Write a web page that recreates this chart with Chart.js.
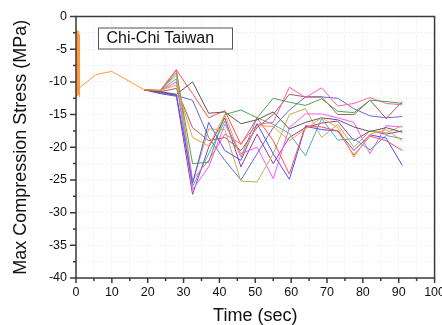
<!DOCTYPE html>
<html>
<head>
<meta charset="utf-8">
<script src="https://cdn.jsdelivr.net/npm/chart.js@4"></script>
<style>
  html, body { margin: 0; padding: 0; background: #fff; overflow: hidden; }
  #wrap { width: 452px; height: 325px; }
</style>
</head>
<body>
<div id="wrap"><canvas id="chart"></canvas></div>
<script>
/* =========================
    DATA
========================= */

// orange spike at the very start (0 - 1 sec)
const spikeTime = [0.0, 0.08, 0.16, 0.24, 0.32, 0.4, 0.48, 0.56, 0.64, 0.72, 0.8, 0.88, 0.96];
const spikeStress = [-11.6, -2.0, -12.4, -2.3, -11.8, -2.6, -12.1, -2.2, -11.5, -3.0, -11.9, -2.8, -12.3];

// sample times (sec)
const time = [1, 5.5, 10, 14.5, 19, 23.5, 28, 32.5, 37, 41.5, 46, 50.5, 55, 59.5, 64, 68.5, 73, 77.5, 82, 86.5, 91];

// shared part up to 19 sec (all runs identical there)
const common = [-10.9, -8.9, -8.4, -9.8, -11.2];

// each series from 23.5 sec on
const sOrange  = [-11.3, -10.5, -18.5, -19.8, -15.0, -21.5, -16.7, -16.8, -19.0, -17.2, -15.5, -17.0, -21.5, -18.0, -17.3, -19.0];
const sGray    = [-11.5, -11.9, -10.0, -14.8, -14.6, -16.4, -15.8, -14.6, -17.2, -16.2, -15.5, -15.8, -16.9, -17.6, -17.0, -17.7];
const sRed     = [-11.4, -8.2, -11.8, -15.5, -14.4, -19.6, -15.5, -19.0, -24.1, -16.7, -16.9, -17.5, -21.2, -18.3, -19.0, -20.5];
const sBlue    = [-11.6, -12.0, -25.5, -16.2, -20.5, -22.0, -16.4, -21.0, -24.9, -16.8, -17.3, -17.5, -20.5, -18.1, -18.6, -22.8];
const sOlive   = [-11.3, -9.0, -25.5, -17.2, -17.3, -25.2, -25.3, -21.0, -15.0, -14.1, -18.5, -16.5, -20.0, -17.5, -17.8, -16.7];
const sGreen   = [-11.4, -8.6, -22.5, -22.3, -15.0, -14.3, -15.5, -12.5, -13.1, -13.6, -12.6, -14.5, -14.7, -12.8, -13.0, -13.3];
const sPink    = [-11.3, -8.1, -25.0, -22.0, -18.0, -19.5, -16.5, -16.2, -10.8, -12.4, -10.9, -13.7, -13.3, -12.4, -13.3, -13.5];
const sBrown   = [-11.5, -11.0, -17.0, -19.0, -18.5, -20.5, -17.0, -15.0, -11.9, -12.3, -12.3, -15.0, -15.0, -12.8, -15.6, -13.0];
const sNavy    = [-11.7, -12.1, -12.8, -18.5, -22.0, -25.0, -21.0, -17.0, -14.3, -12.3, -12.3, -12.5, -14.1, -15.2, -15.5, -15.3];
const sCyan    = [-11.4, -9.5, -26.0, -21.0, -16.0, -21.5, -15.5, -16.5, -17.9, -21.3, -15.6, -18.9, -18.7, -20.4, -18.2, -18.7];
const sMagenta = [-11.4, -10.0, -26.5, -23.0, -16.5, -21.0, -20.0, -24.8, -17.0, -14.9, -14.9, -15.5, -16.2, -21.0, -16.7, -16.9];
const sPurple  = [-11.8, -12.2, -27.2, -20.0, -15.5, -23.0, -18.0, -22.5, -18.5, -17.0, -16.3, -16.0, -19.0, -17.5, -18.0, -17.5];

// axis ticks
const xTicks = [0, 10, 20, 30, 40, 50, 60, 70, 80, 90, 100];
const yTicks = [0, -5, -10, -15, -20, -25, -30, -35, -40];


/* =========================
    DATASETS
========================= */

// full = orange run (spike + shared start), others only from the last shared point on
function toPoints(values, full) {
  const ys = common.concat(values);
  let pts = time.map((t, i) => ({ x: t, y: ys[i] }));
  if (full) {
    const sp = spikeTime.map((t, i) => ({ x: t, y: spikeStress[i] }));
    return sp.concat(pts);
  }
  return pts.slice(common.length - 1);
}

function line(values, color, full) {
  return {
    data: toPoints(values, full),
    borderColor: color,
    borderWidth: 1,
    pointRadius: 0,
    tension: 0,
    fill: false
  };
}

const datasets = [
  line(sOrange, "#ff9a3c", true),
  line(sGray, "#595959"),
  line(sRed, "#ff5050"),
  line(sBlue, "#5050ff"),
  line(sOlive, "#b8b450"),
  line(sGreen, "#4aa84a"),
  line(sPink, "#ff5cb8"),
  line(sBrown, "#a85a5a"),
  line(sNavy, "#6a6ad0"),
  line(sCyan, "#4ab0b0"),
  line(sMagenta, "#ff55ff"),
  line(sPurple, "#9a3aa8")
];


/* =========================
    FRAME / TICKS / LABEL BOX
========================= */

const framePlugin = {
  id: "frame",
  afterDraw(chart) {
    const { ctx, chartArea: a, scales } = chart;
    ctx.save();
    ctx.strokeStyle = "#3a3a3a";
    ctx.lineWidth = 1.5;

    // minor + major ticks, pointing outward
    ctx.beginPath();
    scales.x.ticks.forEach(t => {
      const px = scales.x.getPixelForValue(t.value);
      const len = t.value % 10 === 0 ? 5 : 3;
      ctx.moveTo(px, a.bottom);
      ctx.lineTo(px, a.bottom + len);
    });
    scales.y.ticks.forEach(t => {
      const py = scales.y.getPixelForValue(t.value);
      const len = t.value % 5 === 0 ? 6 : 3;
      ctx.moveTo(a.left, py);
      ctx.lineTo(a.left - len, py);
    });
    ctx.stroke();

    ctx.strokeRect(a.left, a.top, a.right - a.left, a.bottom - a.top);

    // title box
    const bx = a.left + 22, by = a.top + 11, bw = 134, bh = 21;
    ctx.fillStyle = "#fff";
    ctx.fillRect(bx, by, bw, bh);
    ctx.lineWidth = 1;
    ctx.strokeStyle = "#555";
    ctx.strokeRect(bx + 0.5, by + 0.5, bw, bh);
    ctx.fillStyle = "#111";
    ctx.font = "16px 'Liberation Sans', Arial, sans-serif";
    ctx.textBaseline = "middle";
    ctx.textAlign = "left";
    ctx.fillText("Chi-Chi Taiwan", bx + 8.5, by + bh / 2 + 1);
    ctx.restore();
  }
};


/* =========================
    CHART
========================= */

const tickFont = { family: "'Liberation Sans', Arial, sans-serif", size: 12.5 };
const titleFont = { family: "'Liberation Sans', Arial, sans-serif", size: 18, lineHeight: 1 };

new Chart(document.getElementById("chart"), {
  type: "line",
  data: { datasets },
  plugins: [framePlugin],
  options: {
    responsive: true,
    maintainAspectRatio: false,
    animation: false,
    layout: { padding: { top: 16, left: 0, right: 17, bottom: 0 } },
    plugins: {
      legend: { display: false },
      tooltip: { enabled: false }
    },
    scales: {
      x: {
        type: "linear",
        min: 0,
        max: 100,
        afterFit: s => { s.height = 47; },
        ticks: {
          stepSize: 5,
          padding: 7,
          color: "#111",
          font: tickFont,
          maxRotation: 0,
          autoSkip: false,
          callback: v => (xTicks.includes(v) ? String(v) : "")
        },
        grid: { color: "#e6e6e6", lineWidth: 1, drawTicks: false },
        border: { display: false, dash: [1, 2] },
        title: {
          display: true,
          text: "Time (sec)",
          color: "#111",
          font: titleFont,
          padding: { top: 0, bottom: 0 }
        }
      },
      y: {
        min: -40,
        max: 0,
        afterFit: s => { s.width = 76; },
        ticks: {
          stepSize: 2.5,
          padding: 9,
          color: "#111",
          font: tickFont,
          autoSkip: false,
          callback: v => (yTicks.includes(v) ? String(v) : "")
        },
        grid: { color: "#e6e6e6", lineWidth: 1, drawTicks: false },
        border: { display: false, dash: [1, 2] },
        title: {
          display: true,
          text: "Max Compression Stress (MPa)",
          color: "#111",
          font: titleFont,
          padding: { top: 12, bottom: 0 }
        }
      }
    }
  }
});
</script>
</body>
</html>
